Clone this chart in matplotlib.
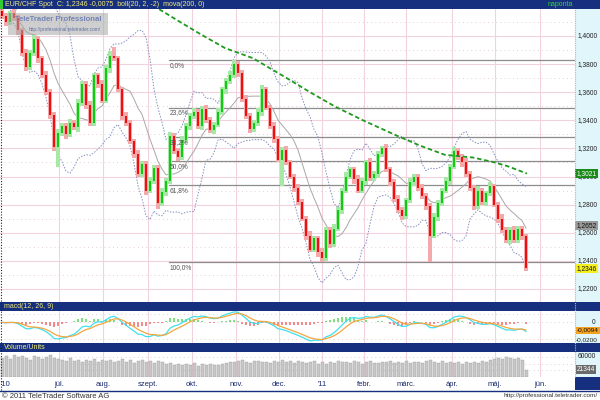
import matplotlib
matplotlib.use("Agg")
import matplotlib.pyplot as plt
import matplotlib.transforms as mtransforms
from matplotlib.patches import Rectangle
from matplotlib.lines import Line2D
import numpy as np
import pandas as pd

plt.rcParams['font.family'] = ['Liberation Sans', 'DejaVu Sans']

# ---- data (2 trading days per candle) ----
first_open = 1.418
closes = [
    1.414, 1.410, 1.416, 1.413, 1.404, 1.388, 1.378, 1.388, 1.398, 1.384,
    1.372, 1.360, 1.344, 1.321, 1.331, 1.336, 1.330, 1.338, 1.335, 1.352,
    1.366, 1.351, 1.338, 1.372, 1.366, 1.354, 1.377, 1.386, 1.384, 1.362,
    1.343, 1.338, 1.325, 1.316, 1.302, 1.309, 1.290, 1.297, 1.306, 1.281,
    1.289, 1.297, 1.329, 1.318, 1.314, 1.326, 1.336, 1.343, 1.346, 1.336,
    1.348, 1.340, 1.333, 1.337, 1.346, 1.362, 1.368, 1.372, 1.380, 1.374,
    1.355, 1.343, 1.334, 1.338, 1.346, 1.362, 1.349, 1.336, 1.327, 1.312,
    1.319, 1.310, 1.300, 1.292, 1.282, 1.270, 1.258, 1.248, 1.256, 1.246,
    1.242, 1.262, 1.252, 1.263, 1.276, 1.290, 1.300, 1.305, 1.298, 1.290,
    1.297, 1.310, 1.299, 1.302, 1.316, 1.320, 1.305, 1.296, 1.284, 1.276,
    1.272, 1.283, 1.296, 1.300, 1.292, 1.286, 1.279, 1.258, 1.271, 1.281,
    1.290, 1.297, 1.307, 1.318, 1.314, 1.310, 1.302, 1.292, 1.279, 1.290,
    1.282, 1.288, 1.293, 1.280, 1.270, 1.262, 1.255, 1.262, 1.255, 1.263,
    1.258, 1.2346,
]
# wick lengths above / below the body, in 0.001
up_wick = [
    3, 2, 2, 3, 2, 2, 3, 2, 3, 2,  2, 3, 2, 2, 3, 2, 2, 3, 2, 3,
    2, 2, 3, 2, 2, 3, 2, 3, 6, 2,  2, 3, 2, 2, 3, 2, 2, 3, 2, 2,
    3, 2, 3, 2, 2, 3, 2, 2, 3, 2,  2, 3, 2, 2, 3, 2, 2, 3, 3, 2,
    2, 3, 2, 2, 3, 3, 2, 2, 3, 2,  2, 3, 2, 2, 3, 2, 2, 3, 2, 2,
    3, 2, 2, 3, 2, 2, 3, 2, 2, 3,  2, 2, 3, 2, 2, 2, 3, 2, 2, 3,
    2, 2, 3, 2, 2, 3, 2, 2, 3, 2,  2, 3, 2, 3, 2, 2, 3, 2, 2, 3,
    2, 2, 3, 2, 2, 3, 2, 2, 3, 2,  2, 1,
]
down_wick = [
    2, 3, 2, 2, 3, 2, 3, 2, 2, 3,  2, 2, 3, 3, 14, 2, 3, 2, 2, 3,
    2, 3, 2, 2, 3, 2, 2, 3, 2, 2,  3, 2, 2, 3, 2, 2, 3, 2, 2, 4,
    2, 3, 2, 2, 3, 2, 2, 3, 2, 2,  3, 2, 2, 3, 2, 2, 3, 2, 2, 3,
    2, 2, 3, 2, 2, 3, 2, 2, 3, 2,  19, 2, 2, 3, 2, 2, 3, 2, 2, 3,
    3, 2, 3, 2, 2, 3, 2, 2, 3, 2,  2, 3, 2, 2, 3, 2, 2, 3, 2, 2,
    3, 2, 2, 3, 2, 2, 3, 19, 2, 3,  2, 2, 3, 2, 2, 3, 2, 2, 3, 2,
    2, 3, 2, 2, 3, 2, 2, 3, 2, 2,  3, 2,
]
# volume in thousands of units
volume = [
    58, 62, 55, 66, 60, 64, 57, 52, 63, 59, 55, 61, 66, 58,
    54, 50, 47, 56, 49, 52, 45, 51, 48, 53, 46, 50,
    47, 52, 44, 49, 55, 46, 50, 43, 48, 52, 45, 49, 41, 47, 44,
    38, 42, 36, 40, 35, 39, 37, 41, 34, 38, 36, 40, 37, 35, 39,
    42, 46, 44, 48, 50, 45, 43, 47, 49, 44, 46, 42, 48, 45, 50,
    44, 47, 43, 49, 46, 42, 45, 48, 38, 44, 40, 46, 43, 47, 45,
    46, 42, 48, 44, 40, 45, 47, 43, 41, 46, 44, 48, 42, 45, 43, 47, 41, 44, 46, 42, 49, 52,
    45, 43, 47, 41, 44, 42, 46, 40, 44, 43, 45, 41, 47, 44,
    50, 55, 58, 53, 60, 56, 54, 58, 52, 21.344,
]

# 200-day moving average (day index, value)
ma200_day = [66, 78.5, 90, 100, 112.5, 126.5, 143.5, 155, 167.5, 181.5,
             198.5, 210, 222.5, 236.5, 246, 253.5, 263.5]
ma200_val = [1.440, 1.420, 1.410, 1.4015, 1.3914, 1.3842, 1.3699, 1.3600, 1.3498, 1.3400,
             1.3290, 1.3220, 1.3154, 1.3135, 1.3105, 1.3075, 1.3021]

fib_top = 1.383
fib_bottom = 1.239
fib_ratios = [0.0, 0.236, 0.382, 0.5, 0.618, 1.0]
fib_labels = ["0,0%", "23,6%", "38,2%", "50,0%", "61,8%", "100,0%"]

month_days = [29.5, 51.5, 74, 96, 118, 139.5, 161, 182, 203, 226, 247.5, 270]
month_labels = ["júl.", "aug.", "szept.", "okt.", "nov.", "dec.", "'11",
                "febr.", "márc.", "ápr.", "máj.", "jún."]
price_ticks = [1.22, 1.24, 1.26, 1.28, 1.30, 1.32, 1.34, 1.36, 1.38, 1.40]

last_ma_label = "1,3021"
last_boll_label = "1,2652"
last_close_label = "1,2346"
macd_label = "-0,0094"
vol_label = "21344"

# ---- derived series ----
c = np.array(closes)
o = np.concatenate([[first_open], c[:-1]])
hi = np.maximum(o, c) + np.array(up_wick) * 0.001
lo = np.minimum(o, c) - np.array(down_wick) * 0.001
x = np.arange(len(c)) * 2 + 1.0
up = c >= o

s = pd.Series(c)
mid = s.rolling(10, min_periods=3).mean()
sd = s.rolling(10, min_periods=3).std(ddof=0)
upper = mid + 2 * sd
lower = mid - 2 * sd

macd = s.ewm(span=6, adjust=False).mean() - s.ewm(span=13, adjust=False).mean()
signal = macd.ewm(span=4.5, adjust=False).mean()
hist = macd - signal

# ---- layout helpers (pixels, top-left origin) ----
W, H = 600, 400
NAVY = '#16307f'
PINK = '#f2d2de'
XMAX = 287.5


def rect(x0, y0, x1, y1):
    return [x0 / W, 1 - y1 / H, (x1 - x0) / W, (y1 - y0) / H]


def bar_axes(fig, y0, y1):
    a = fig.add_axes(rect(0, y0, 600, y1))
    a.set_facecolor(NAVY)
    a.set_xticks([])
    a.set_yticks([])
    for sp in a.spines.values():
        sp.set_visible(False)
    return a


def clean(a):
    a.set_xticks([])
    a.set_yticks([])
    for sp in a.spines.values():
        sp.set_visible(False)


fig = plt.figure(figsize=(6, 4), dpi=100)
fig.patch.set_facecolor('white')

# right-hand value strip
side = fig.add_axes(rect(575, 9, 600, 377))
side.set_facecolor('#e0f6fb')
clean(side)

# ---- main price panel ----
ax = fig.add_axes(rect(0, 9, 575, 302))
clean(ax)
ax.set_xlim(0, XMAX)
ax.set_ylim(1.2107, 1.4192)

for d in month_days:
    ax.axvline(d, color=PINK, lw=0.8, zorder=0)
for p in price_ticks:
    ax.axhline(p, color=PINK, lw=0.8, zorder=0)
    ax.axhline(p + 0.01, color='#d8c0c8', lw=0.6, ls=(0, (1, 4)), zorder=0)

for r, lab in zip(fib_ratios, fib_labels):
    lvl = fib_top - r * (fib_top - fib_bottom)
    ax.plot([84.5, XMAX], [lvl, lvl], color='#8c8c8c', lw=0.9, zorder=1)
    ax.text(85, lvl - 0.0012, lab, fontsize=4.8, color='#555555', va='top', ha='left', zorder=6)

ax.plot(x, mid, color='#a8a8a8', lw=0.7, zorder=2)
ax.plot(x, upper, color='#8290c0', lw=0.7, ls=(0, (1.5, 1.5)), zorder=2)
ax.plot(x, lower, color='#8290c0', lw=0.7, ls=(0, (1.5, 1.5)), zorder=2)
ax.plot(ma200_day, ma200_val, color='#1e9a1e', lw=1.3, ls=(0, (2.5, 1.5)), zorder=5)

wick_col = np.where(up, '#a6e8a6', '#f4aaaa')
body_col = np.where(up, '#14c814', '#ee1010')
ax.bar(x, hi - lo, bottom=lo, width=1.55, color=wick_col, lw=0, zorder=3)
ax.bar(x, np.maximum(np.abs(c - o), 0.0006), bottom=np.minimum(o, c), width=1.0,
       color=body_col, lw=0, zorder=4)

ytr = mtransforms.blended_transform_factory(ax.transAxes, ax.transData)
for p in price_ticks:
    ax.text(1.005, p, f"{p:.4f}".replace('.', ','), transform=ytr, fontsize=4.8,
            va='center', ha='left', color='#222222', clip_on=False)
boxes = [(last_ma_label, '#1a8a1a', 'white'), (last_boll_label, '#9a9a9a', '#111111'),
         (last_close_label, '#f4f020', '#111111')]
for lab, fc, tc in boxes:
    ax.text(1.003, float(lab.replace(',', '.')), lab, transform=ytr, fontsize=4.8,
            va='center', ha='left', color=tc, clip_on=False, zorder=10,
            bbox=dict(boxstyle='square,pad=0.2', fc=fc, ec='none'))

# logo watermark
ax.add_patch(Rectangle((0.014, 0.911), 0.174, 0.075, transform=ax.transAxes,
                       fc='#a8a8a8', ec='none', alpha=0.55, zorder=7))
ax.text(0.101, 0.963, "TeleTrader Professional", transform=ax.transAxes, fontsize=5.6,
        fontweight='bold', color='#7484b4', ha='center', va='center', zorder=8)
ax.text(0.112, 0.930, "http://professional.teletrader.com/", transform=ax.transAxes,
        fontsize=3.4, color='#6070a0', ha='center', va='center', zorder=8)

# ---- title bars ----
t = bar_axes(fig, 0, 9)
t.text(0.008, 0.45, "EUR/CHF Spot  C: 1,2346 -0,0075  boll(20, 2, -2)  mova(200, 0)",
       fontsize=5, color='#f4ec7a', va='center', ha='left', transform=t.transAxes)
t.text(0.955, 0.45, "naponta", fontsize=5, color='#33d633', va='center', ha='right',
       transform=t.transAxes)
t.add_patch(Rectangle((0, 0), 0.005, 1, transform=t.transAxes, fc='#33cc33', ec='none'))

m = bar_axes(fig, 302, 311)
m.text(0.006, 0.45, "macd(12, 26, 9)", fontsize=5, color='#f4ec7a', va='center',
       transform=m.transAxes)
v = bar_axes(fig, 343, 352)
v.text(0.006, 0.45, "Volume/Units", fontsize=5, color='#f4ec7a', va='center',
       transform=v.transAxes)

# ---- MACD panel ----
am = fig.add_axes(rect(0, 311, 575, 343))
clean(am)
am.set_xlim(0, XMAX)
am.set_ylim(-0.025, 0.0138)
for d in month_days:
    am.axvline(d, color=PINK, lw=0.8, zorder=0)
for p in [-0.02, 0.0, 0.01]:
    am.axhline(p, color='#d8c0c8', lw=0.6, ls=(0, (1, 4)), zorder=0)
am.bar(x, hist, width=1.4, color=np.where(hist >= 0, '#7ee07e', '#f28c8c'), lw=0, zorder=1)
am.plot(x, macd, color='#3ee0f0', lw=0.9, zorder=2)
am.plot(x, signal, color='#f4a640', lw=0.9, zorder=3)
mtr = mtransforms.blended_transform_factory(am.transAxes, am.transData)
am.text(1.03, 0.0, "0", transform=mtr, fontsize=4.8, va='center', ha='left',
        color='#222222', clip_on=False)
am.text(1.001, -0.0205, "-0,0200", transform=mtr, fontsize=4.6, va='center', ha='left',
        color='#222222', clip_on=False)
am.text(1.003, float(macd_label.replace(',', '.')), macd_label, transform=mtr, fontsize=4.6,
        va='center', ha='left', color='#111111', clip_on=False, zorder=10,
        bbox=dict(boxstyle='square,pad=0.15', fc='#f4a020', ec='none'))

# ---- volume panel ----
av = fig.add_axes(rect(0, 352, 575, 377))
clean(av)
av.set_xlim(0, XMAX)
av.set_ylim(0, 75000)
for d in month_days:
    av.axvline(d, color=PINK, lw=0.8, zorder=0)
for p in [20000, 40000, 60000]:
    av.axhline(p, color='#d8c0c8', lw=0.6, ls=(0, (1, 4)), zorder=0)
av.bar(x, np.array(volume) * 1000, width=1.5, color='#c8c8c8', ec='#a0a0a0', lw=0.3, zorder=1)
vtr = mtransforms.blended_transform_factory(av.transAxes, av.transData)
av.text(1.005, 60000, "60000", transform=vtr, fontsize=4.8, va='center', ha='left',
        color='#222222', clip_on=False)
av.text(1.003, volume[-1] * 1000, vol_label, transform=vtr, fontsize=4.8, va='center',
        ha='left', color='white', clip_on=False, zorder=10,
        bbox=dict(boxstyle='square,pad=0.15', fc='#6a6a6a', ec='none'))

# ---- time axis strip ----
ta = fig.add_axes(rect(0, 377, 575, 390))
clean(ta)
ta.set_xlim(0, XMAX)
ta.set_ylim(0, 1)
ta.set_facecolor('white')
ta.text(0.5, 0.45, "'10", fontsize=5.5, color='#1a2a6c', ha='left', va='center')
for d, lab in zip(month_days, month_labels):
    ta.text(d, 0.45, lab, fontsize=5.5, color='#1a2a6c', ha='center', va='center')
corner = fig.add_axes(rect(575, 377, 600, 390))
corner.set_facecolor(NAVY)
clean(corner)

# separators
fig.add_artist(Line2D([575 / W, 575 / W], [1 - 377 / H, 1 - 9 / H], color='#d8c040',
                      lw=0.8, ls=(0, (1, 1))))
fig.add_artist(Line2D([0, 1], [1 - 390.5 / H] * 2, color=NAVY, lw=1.0))
fig.add_artist(Line2D([0.5 / W] * 2, [1 - 390 / H, 1 - 9 / H], color='#222222',
                      lw=0.8, ls=(0, (1, 1.5))))

fig.text(2 / W, 1 - 396 / H, "© 2011 TeleTrader Software AG", fontsize=5.5,
         color='#333333', va='center', ha='left')
fig.text(598 / W, 1 - 396 / H, "http://professional.teletrader.com/", fontsize=4.6,
         color='#333333', va='center', ha='right')

fig.savefig("out.png", dpi=100)
